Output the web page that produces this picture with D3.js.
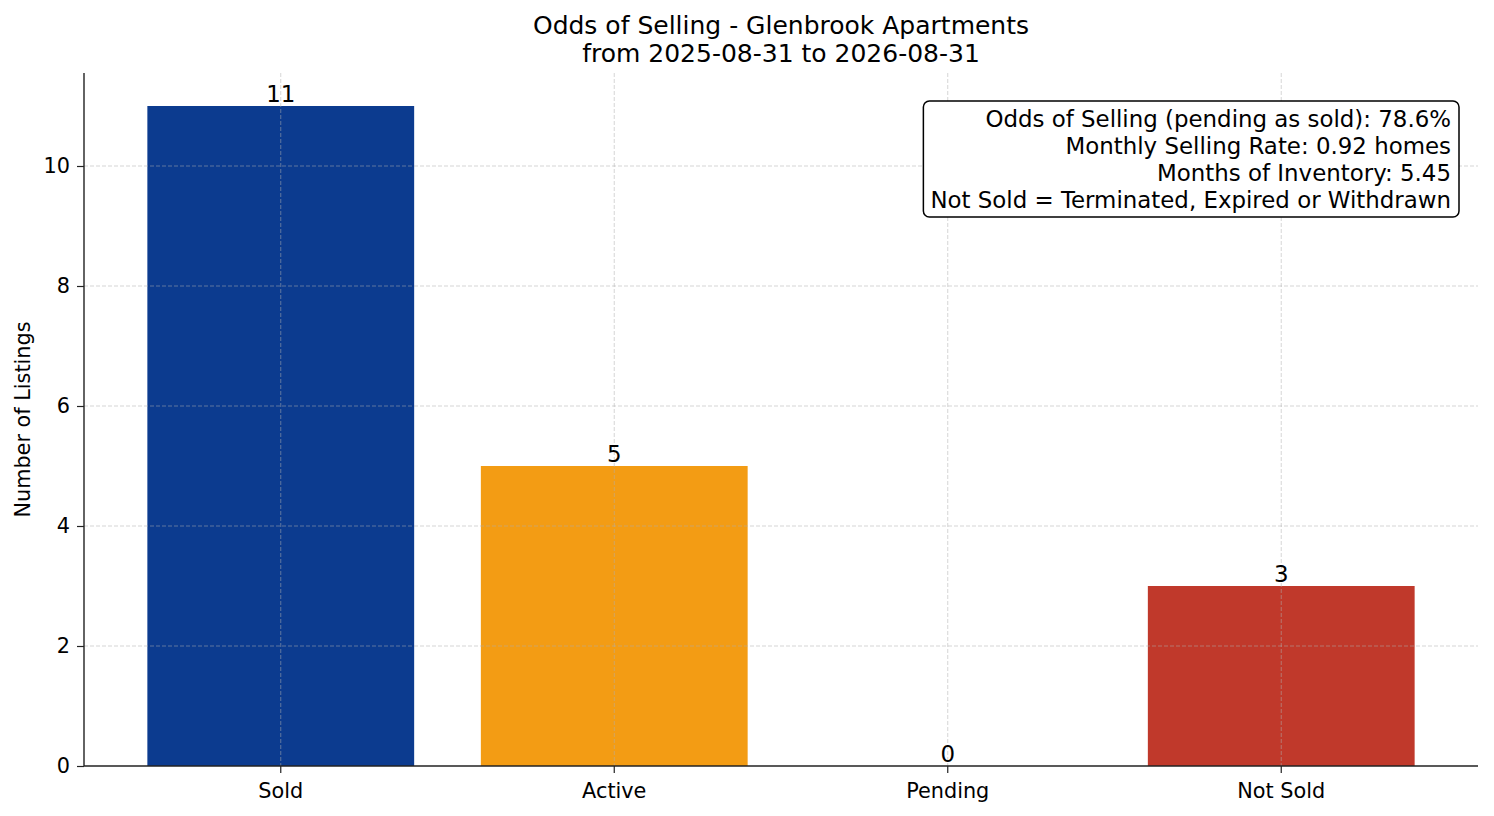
<!DOCTYPE html>
<html>
<head>
<meta charset="utf-8">
<script src="https://cdn.jsdelivr.net/npm/d3@7"></script>
<style>
  body { margin: 0; background: #fff; }
  svg { font-family: "DejaVu Sans", sans-serif; }
</style>
</head>
<body>
<div class="canvas"></div>
<script>
const categories = ['Sold', 'Active', 'Pending', 'Not Sold'];
const counts = [11, 5, 0, 3];
const barColors = ['#0c3b8f', '#f39c14', '#1f77b4', '#c0392b'];
const yTicks = [0, 2, 4, 6, 8, 10];
const titleLines = ['Odds of Selling - Glenbrook Apartments', 'from 2025-08-31 to 2026-08-31'];
const noteLines = [
  'Odds of Selling (pending as sold): 78.6%',
  'Monthly Selling Rate: 0.92 homes',
  'Months of Inventory: 5.45',
  'Not Sold = Terminated, Expired or Withdrawn'
];

const width = 1494, height = 816;
const margin = { top: 73, right: 16, bottom: 50, left: 84 };

const svg = d3.select('.canvas')
  .append('svg')
  .attr('width', width)
  .attr('height', height);

const x = d3.scaleBand()
  .domain(categories)
  .range([margin.left, width - margin.right])
  .paddingInner(0.2)
  .paddingOuter(0.19);

const y = d3.scaleLinear()
  .domain([0, d3.max(counts) * 1.05])
  .range([height - margin.bottom, margin.top]);

const data = categories.map((c, i) => ({ name: c, value: counts[i], color: barColors[i] }));

// bars
svg.append('g')
  .selectAll('rect')
  .data(data)
  .join('rect')
  .attr('x', d => x(d.name))
  .attr('y', d => y(d.value))
  .attr('width', x.bandwidth())
  .attr('height', d => y(0) - y(d.value))
  .attr('fill', d => d.color);

// grid sits above the bars in the original
const grid = svg.append('g')
  .attr('stroke', '#b0b0b0')
  .attr('stroke-opacity', 0.65)
  .attr('stroke-width', 0.8)
  .attr('stroke-dasharray', '4,2');

grid.selectAll('.hg')
  .data(yTicks.filter(t => t > 0))
  .join('line')
  .attr('x1', margin.left)
  .attr('x2', width - margin.right)
  .attr('y1', d => y(d))
  .attr('y2', d => y(d));

grid.selectAll('.vg')
  .data(categories)
  .join('line')
  .attr('x1', d => x(d) + x.bandwidth() / 2)
  .attr('x2', d => x(d) + x.bandwidth() / 2)
  .attr('y1', y.range()[1])
  .attr('y2', y(0));

// axes
const xAxis = svg.append('g')
  .attr('transform', `translate(0,${y(0)})`)
  .call(d3.axisBottom(x).tickSize(7).tickPadding(10));

const yAxis = svg.append('g')
  .attr('transform', `translate(${margin.left},0)`)
  .call(d3.axisLeft(y).tickValues(yTicks).tickSize(7).tickPadding(7));

[xAxis, yAxis].forEach(a => {
  a.select('.domain').attr('stroke', '#222').attr('stroke-width', 1.4);
  a.selectAll('.tick line').attr('stroke', '#222').attr('stroke-width', 1.2);
  a.selectAll('.tick text')
    .attr('font-family', '"DejaVu Sans", sans-serif')
    .attr('font-size', 20.8)
    .attr('fill', '#000');
});
// plain spines, no end caps
xAxis.select('.domain').attr('d', `M${margin.left},0H${width - margin.right}`);
yAxis.select('.domain').attr('d', `M0,${y(0)}V${y.range()[1]}`);

// value labels
svg.append('g')
  .selectAll('text')
  .data(data)
  .join('text')
  .attr('x', d => x(d.name) + x.bandwidth() / 2)
  .attr('y', d => y(d.value) - 4)
  .attr('text-anchor', 'middle')
  .attr('font-size', 22.9)
  .text(d => d.value);

// title
const cx = (margin.left + width - margin.right) / 2;
svg.append('text')
  .attr('text-anchor', 'middle')
  .attr('font-size', 25)
  .selectAll('tspan')
  .data(titleLines)
  .join('tspan')
  .attr('x', cx)
  .attr('y', (d, i) => 34 + i * 27.5)
  .text(d => d);

// y label
svg.append('text')
  .attr('transform', `translate(30,${(y.range()[0] + y.range()[1]) / 2}) rotate(-90)`)
  .attr('text-anchor', 'middle')
  .attr('font-size', 20.8)
  .text('Number of Listings');

// info box
const note = svg.append('g');
const noteText = note.append('text')
  .attr('text-anchor', 'end')
  .attr('font-size', 22.9);
noteText.selectAll('tspan')
  .data(noteLines)
  .join('tspan')
  .attr('x', 1451)
  .attr('y', (d, i) => 127 + i * 27)
  .text(d => d);

const bb = noteText.node().getBBox();
note.insert('rect', 'text')
  .attr('x', bb.x - 7)
  .attr('y', 101)
  .attr('width', bb.width + 15)
  .attr('height', 116)
  .attr('rx', 6)
  .attr('fill', '#fff')
  .attr('stroke', '#000')
  .attr('stroke-width', 1.5);
</script>
</body>
</html>
